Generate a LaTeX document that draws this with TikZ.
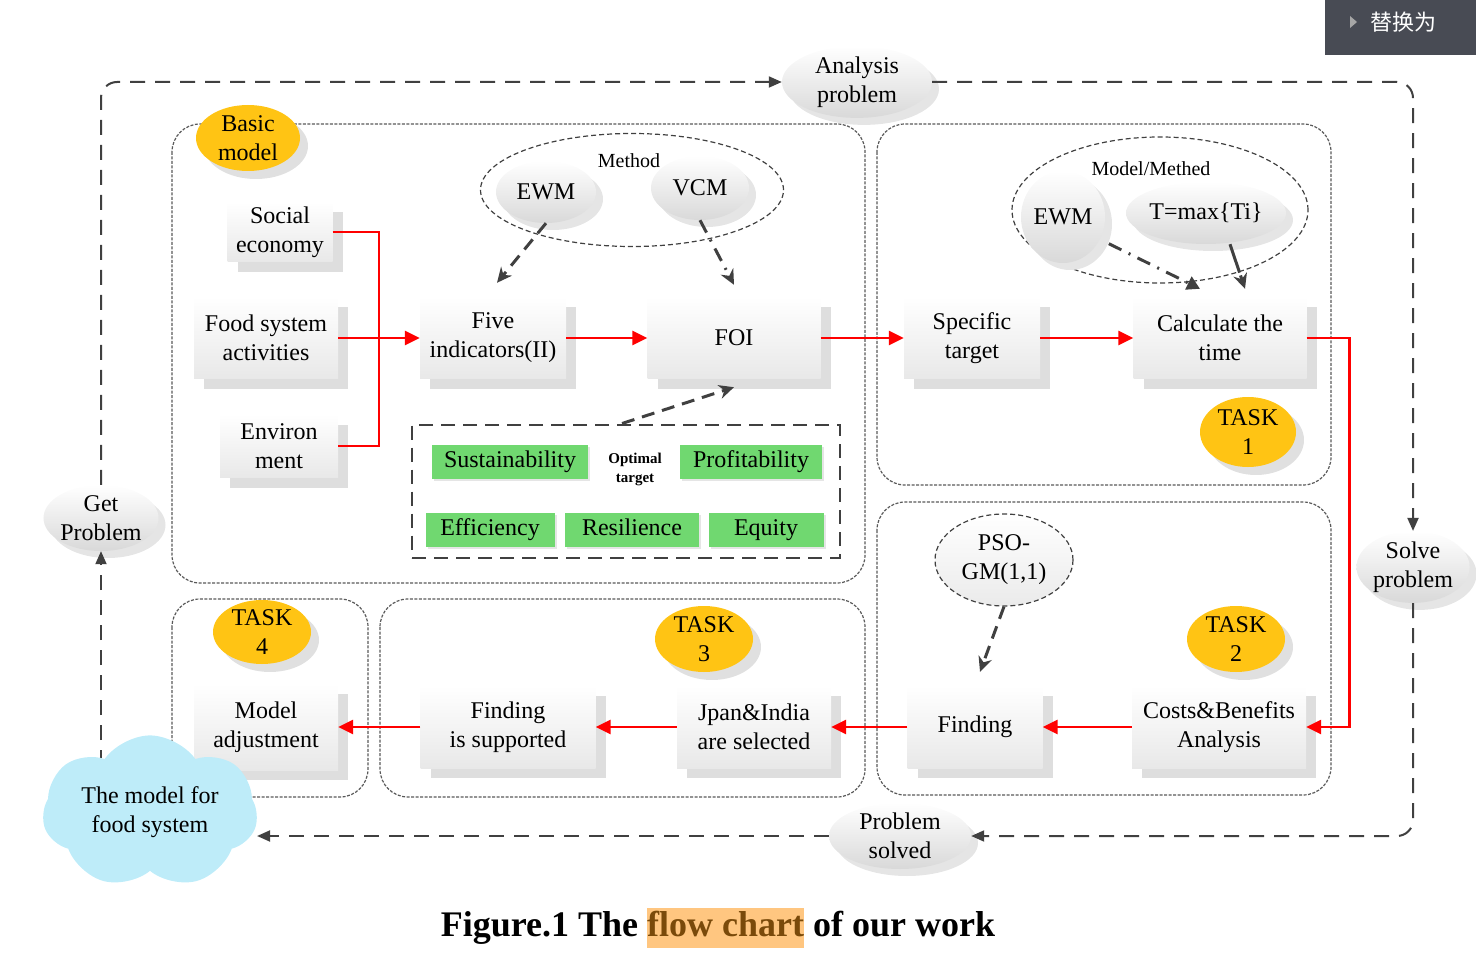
\documentclass[tikz,border=0pt]{standalone}
\usepackage{fontspec}
\setmainfont{Liberation Serif}
\newfontfamily\cjkfont{Noto Sans CJK SC}
\usetikzlibrary{shapes.geometric, shapes.symbols, shadows, arrows.meta, positioning, calc}
\definecolor{taskgold}{RGB}{255,196,20}
\definecolor{optgreen}{RGB}{112,216,112}
\definecolor{cloudblue}{RGB}{190,236,249}
\definecolor{uibg}{RGB}{72,75,84}
\definecolor{hlorange}{RGB}{255,198,128}
\definecolor{hlbrown}{RGB}{122,74,10}

\begin{document}
\begin{tikzpicture}[
    x=1pt, y=-1pt,
    every node/.style={font=\fontsize{24}{29}\selectfont, align=center},
    stepbox/.style={rectangle, top color=white, bottom color=black!9, inner sep=2pt,
        minimum height=82pt, general shadow={fill=black!13, shadow xshift=10pt, shadow yshift=-10pt}},
    grayell/.style={ellipse, top color=white, bottom color=black!15, inner sep=0pt,
        general shadow={fill=black!10, shadow xshift=7pt, shadow yshift=-7pt}},
    taskell/.style={ellipse, fill=taskgold, inner sep=0pt, minimum width=98pt, minimum height=66pt,
        general shadow={fill=black!12, shadow xshift=8pt, shadow yshift=-8pt}},
    goalbox/.style={rectangle, fill=optgreen, minimum height=34pt, inner sep=0pt,
        text height=17pt, text depth=6pt,
        general shadow={fill=black!10, shadow xshift=2pt, shadow yshift=-2pt}},
    methodell/.style={ellipse, draw=black!75, line width=1.2pt, dash pattern=on 5pt off 3pt},
    group/.style={draw=black!65, line width=1.2pt, dash pattern=on 3pt off 1.5pt, rounded corners=28pt},
    loopline/.style={draw=black!75, line width=2pt, dash pattern=on 15pt off 10pt,
        -{Triangle[length=13pt,width=11pt]}},
    redarrow/.style={draw=red, line width=2.5pt, -{Triangle[length=15pt,width=14pt]}},
    redline/.style={draw=red, line width=2pt},
    hintarrow/.style={draw=black!75, line width=3pt, dash pattern=on 13pt off 8pt,
        -{Stealth[length=15pt,width=14pt]}}
]
\useasboundingbox (0,0) rectangle (1476,976);

% groups
\draw[group] (172,124) rectangle (865,583);
\draw[group] (877,124) rectangle (1331,485);
\draw[group] (877,502) rectangle (1331,795);
\draw[group] (172,599) rectangle (368,797);
\draw[group] (380,599) rectangle (865,797);

% outer loop
\node[grayell, minimum width=150pt, minimum height=64pt] (analysis) at (857,82) {Analysis\\problem};
\node[grayell, minimum width=112pt, minimum height=66pt] (getp) at (101,518) {Get\\Problem};
\node[grayell, minimum width=108pt, minimum height=68pt] (solve) at (1413,567) {Solve\\problem};
\node[grayell, minimum width=142pt, minimum height=66pt] (solved) at (900,836) {Problem\\solved};

% basic model
\node[taskell, minimum width=104pt] (basic) at (248,138) {Basic\\model};
\node[stepbox, minimum width=105pt, minimum height=60pt] (social) at (280,232) {Social\\economy};
\node[stepbox, minimum width=144pt] (food) at (266,338) {Food system\\activities};
\node[stepbox, minimum width=118pt, minimum height=63pt] (environ) at (279,446) {Environ\\ment};
\node[stepbox, minimum width=146pt] (five) at (493,338) {Five\\indicators(II)};
\node[stepbox, minimum width=173pt] (foi) at (734,338) {FOI};

% method
\node[methodell, minimum width=303pt, minimum height=113pt] (method) at (632,190) {};
\node[font=\fontsize{20}{22}\selectfont] (methodlbl) at (629,161) {Method};
\node[grayell, minimum width=100pt, minimum height=62pt] (ewm) at (546,192) {EWM};
\node[grayell, minimum width=98pt, minimum height=64pt] (vcm) at (700,188) {VCM};

% optimal target
\node[draw=black!75, line width=2pt, dash pattern=on 14pt off 8pt,
    minimum width=428pt, minimum height=133pt] (opt) at (626,491) {};
\node[goalbox, minimum width=156pt] (sust) at (510,462) {Sustainability};
\node[goalbox, minimum width=142pt] (prof) at (751,462) {Profitability};
\node[goalbox, minimum width=129pt] (eff) at (490,530) {Efficiency};
\node[goalbox, minimum width=134pt] (res) at (632,530) {Resilience};
\node[goalbox, minimum width=115pt] (equ) at (766,530) {Equity};
\node[font=\bfseries\fontsize{15}{19}\selectfont] (optlbl) at (635,469) {Optimal\\target};

% task 1
\node[stepbox, minimum width=136pt] (spec) at (972,338) {Specific\\target};
\node[stepbox, minimum width=173pt] (calc) at (1220,338) {Calculate the\\time};
\node[taskell, minimum width=96pt, minimum height=70pt] (task1) at (1248,432) {TASK\\1};
\node[methodell, minimum width=296pt, minimum height=146pt] (model) at (1160,210) {};
\node[font=\fontsize{20}{22}\selectfont] (modellbl) at (1151,169) {Model/Methed};
\node[grayell, minimum width=84pt, minimum height=92pt] (ewmb) at (1063,217) {EWM};
\node[grayell, minimum width=160pt, minimum height=62pt] (tmax) at (1206,213) {T=max\{Ti\}};

% task 2
\node[methodell, top color=white, bottom color=black!8, minimum width=138pt, minimum height=92pt]
    (pso) at (1004,560) {PSO-\\GM(1,1)};
\node[stepbox, minimum width=135pt] (finding) at (975,727) {Finding};
\node[stepbox, minimum width=174pt] (costs) at (1219,727) {Costs\&Benefits\\Analysis};
\node[taskell] (task2) at (1236,639) {TASK\\2};

% task 3
\node[taskell] (task3) at (704,639) {TASK\\3};
\node[stepbox, minimum width=154pt] (jpan) at (754,727) {Jpan\&India\\are selected};
\node[stepbox, minimum width=175pt] (findsup) at (508,727) {Finding\\is supported};

% task 4
\node[taskell, minimum height=64pt] (task4) at (262,632) {TASK\\4};
\node[stepbox, minimum width=144pt, minimum height=86pt] (modeladj) at (266,727) {Model\\adjustment};

% cloud and its link up
\coordinate (cloudtop) at (101,790);
\draw[loopline] (cloudtop) -- (getp.south);
\node[cloud, cloud puffs=7, cloud puff arc=110, aspect=1.6, fill=cloudblue, inner sep=0pt,
    minimum width=215pt, minimum height=135pt] (cloud) at (150,812) {The model for\\food system};

% red flow
\coordinate (join) at (379,338);
\draw[redline] (social.east) -| (join);
\draw[redline] (environ.east) -| (join);
\draw[redarrow] (food.east) -- (five.west);
\draw[redarrow] (five.east) -- (foi.west);
\draw[redarrow] (foi.east) -- (spec.west);
\draw[redarrow] (spec.east) -- (calc.west);
\draw[redarrow] (calc.east) -- ++(43,0) |- (costs.east);
\draw[redarrow] (costs.west) -- (finding.east);
\draw[redarrow] (finding.west) -- (jpan.east);
\draw[redarrow] (jpan.west) -- (findsup.east);
\draw[redarrow] (findsup.west) -- (modeladj.east);

% method hints
\draw[hintarrow] (ewm.south) -- ([xshift=4pt,yshift=14pt]five.north);
\draw[hintarrow, dash pattern=on 14pt off 8pt on 2pt off 8pt] (vcm.south) -- ([yshift=12pt]foi.north);
\draw[hintarrow] ([xshift=-4pt]opt.north) -- ([yshift=-8pt]foi.south);
\draw[hintarrow, dash pattern=on 14pt off 8pt on 2pt off 8pt, -{Triangle[length=13pt,width=14pt]}]
    ([xshift=16pt,yshift=6pt]ewmb.south east) -- ([xshift=-20pt,yshift=8pt]calc.north);
\draw[hintarrow, dash pattern=on 30pt off 3pt] ([xshift=24pt]tmax.south) -- ([xshift=25pt,yshift=8pt]calc.north);
\draw[hintarrow] (pso.south) -- ([xshift=5pt,yshift=14pt]finding.north);

% outer loop lines
\draw[loopline, rounded corners=16pt] (getp.north) |- (analysis.west);
\draw[loopline, rounded corners=16pt] (analysis.east) -| (solve.north);
\draw[loopline, rounded corners=16pt] (solve.south) |- (solved.east);
\draw[loopline] (solved.west) -- (cloud.east |- solved.west);

% top right button
\fill[uibg] (1325,0) rectangle (1476,55);
\fill[black!35] (1350,16) -- (1357,22) -- (1350,28) -- cycle;
\node[text=white, font=\cjkfont\fontsize{22}{24}\selectfont] (swap) at (1403,22) {替换为};

% caption
\node[font=\bfseries\fontsize{36}{40}\selectfont] (caption) at (718,928)
    {Figure.1 The {\fboxsep=0pt\colorbox{hlorange}{\strut\textcolor{hlbrown}{flow chart}}} of our work};
\end{tikzpicture}
\end{document}
